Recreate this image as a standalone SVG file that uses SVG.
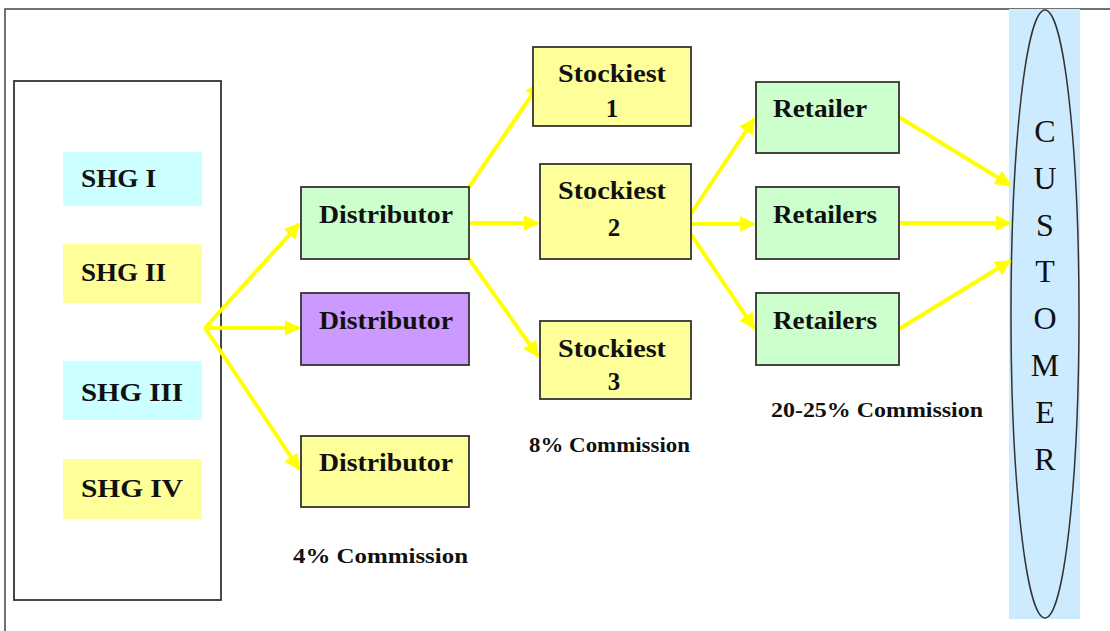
<svg xmlns="http://www.w3.org/2000/svg" width="1110" height="631" viewBox="0 0 1110 631">
<style>
.box{stroke:#333;stroke-width:1.8}
.t{font-family:"Liberation Serif","Times New Roman",serif;font-weight:bold;font-size:25px;fill:#111}
.c{font-family:"Liberation Serif","Times New Roman",serif;font-weight:bold;font-size:21px;fill:#111}
.cu{font-family:"Liberation Serif","Times New Roman",serif;font-size:32px;fill:#111;text-anchor:middle}
.a{stroke:#FFFF00;stroke-width:4;fill:none;marker-end:url(#ah)}
.y{fill:#FFFF99}.g{fill:#CCFFCC}.cy{fill:#CCFFFF}.p{fill:#CC99FF}
</style>
<defs>
<marker id="ah" viewBox="0 0 10 10" refX="9" refY="5" markerWidth="4" markerHeight="4" orient="auto" markerUnits="strokeWidth">
<path d="M0,0 L10,5 L0,10 z" fill="#FFFF00"/>
</marker>
</defs>
<rect width="1110" height="631" fill="#fff"/>
<g id="frame" stroke="#444" stroke-width="1.5" fill="none">
<path d="M5,631 L5,9 L1110,9"/>
</g>
<g id="customer">
<rect x="1009" y="9" width="71" height="610" fill="#CCEBFF"/>
<ellipse cx="1045" cy="314" rx="34" ry="304" fill="none" stroke="#333" stroke-width="1.5"/>
<text class="cu" x="1045" y="142">C</text>
<text class="cu" x="1045" y="189">U</text>
<text class="cu" x="1045" y="236">S</text>
<text class="cu" x="1045" y="282">T</text>
<text class="cu" x="1045" y="329">O</text>
<text class="cu" x="1045" y="376">M</text>
<text class="cu" x="1045" y="423">E</text>
<text class="cu" x="1045" y="470">R</text>
</g>
<g id="shg-group">
<rect x="14" y="81" width="207" height="519" fill="#fff" stroke="#333" stroke-width="1.8"/>
</g>
<g id="shg1"><rect class="cy" x="63" y="152" width="139" height="54"/><text class="t" x="81" y="187" textLength="75" lengthAdjust="spacingAndGlyphs">SHG I</text></g>
<g id="shg2"><rect class="y" x="63" y="244" width="139" height="59"/><text class="t" x="81" y="281" textLength="85" lengthAdjust="spacingAndGlyphs">SHG II</text></g>
<g id="shg3"><rect class="cy" x="63" y="361" width="139" height="59"/><text class="t" x="81" y="401" textLength="102" lengthAdjust="spacingAndGlyphs">SHG III</text></g>
<g id="shg4"><rect class="y" x="63" y="459" width="139" height="60"/><text class="t" x="81" y="497" textLength="102" lengthAdjust="spacingAndGlyphs">SHG IV</text></g>
<g id="connectors">
<path class="a" d="M205,328 L299,224"/>
<path class="a" d="M205,328 L299,328"/>
<path class="a" d="M205,328 L299,469"/>
<path class="a" d="M469,187 L540,83"/>
<path class="a" d="M469,223 L538,223"/>
<path class="a" d="M469,259 L538,356"/>
<path class="a" d="M684,224 L754,119"/>
<path class="a" d="M684,224 L754,224"/>
<path class="a" d="M684,224 L754,328"/>
<path class="a" d="M899,117 L1010,185"/>
<path class="a" d="M899,223 L1010,223"/>
<path class="a" d="M899,329 L1010,261"/>
</g>
<g id="dist1"><rect class="box g" x="301" y="187" width="168" height="72"/><text class="t" x="319" y="223" textLength="134" lengthAdjust="spacingAndGlyphs">Distributor</text></g>
<g id="dist2"><rect class="box p" x="301" y="293" width="168" height="72"/><text class="t" x="319" y="329" textLength="134" lengthAdjust="spacingAndGlyphs">Distributor</text></g>
<g id="dist3"><rect class="box y" x="301" y="436" width="168" height="71"/><text class="t" x="319" y="471" textLength="134" lengthAdjust="spacingAndGlyphs">Distributor</text></g>
<g id="stock1"><rect class="box y" x="533" y="47" width="158" height="79"/><text class="t" x="558" y="82" textLength="108" lengthAdjust="spacingAndGlyphs">Stockiest</text><text class="t" x="612" y="117" text-anchor="middle">1</text></g>
<g id="stock2"><rect class="box y" x="540" y="164" width="151" height="95"/><text class="t" x="558" y="199" textLength="108" lengthAdjust="spacingAndGlyphs">Stockiest</text><text class="t" x="614" y="236" text-anchor="middle">2</text></g>
<g id="stock3"><rect class="box y" x="540" y="321" width="151" height="78"/><text class="t" x="558" y="357" textLength="108" lengthAdjust="spacingAndGlyphs">Stockiest</text><text class="t" x="614" y="390" text-anchor="middle">3</text></g>
<g id="ret1"><rect class="box g" x="756" y="82" width="143" height="71"/><text class="t" x="773" y="117" textLength="94" lengthAdjust="spacingAndGlyphs">Retailer</text></g>
<g id="ret2"><rect class="box g" x="756" y="187" width="143" height="72"/><text class="t" x="773" y="223" textLength="104" lengthAdjust="spacingAndGlyphs">Retailers</text></g>
<g id="ret3"><rect class="box g" x="756" y="293" width="143" height="72"/><text class="t" x="773" y="329" textLength="104" lengthAdjust="spacingAndGlyphs">Retailers</text></g>
<g id="labels">
<text class="c" x="293" y="563" textLength="175" lengthAdjust="spacingAndGlyphs">4% Commission</text>
<text class="c" x="529" y="452" textLength="161" lengthAdjust="spacingAndGlyphs">8% Commission</text>
<text class="c" x="771" y="417" textLength="212" lengthAdjust="spacingAndGlyphs">20-25% Commission</text>
</g>
</svg>
